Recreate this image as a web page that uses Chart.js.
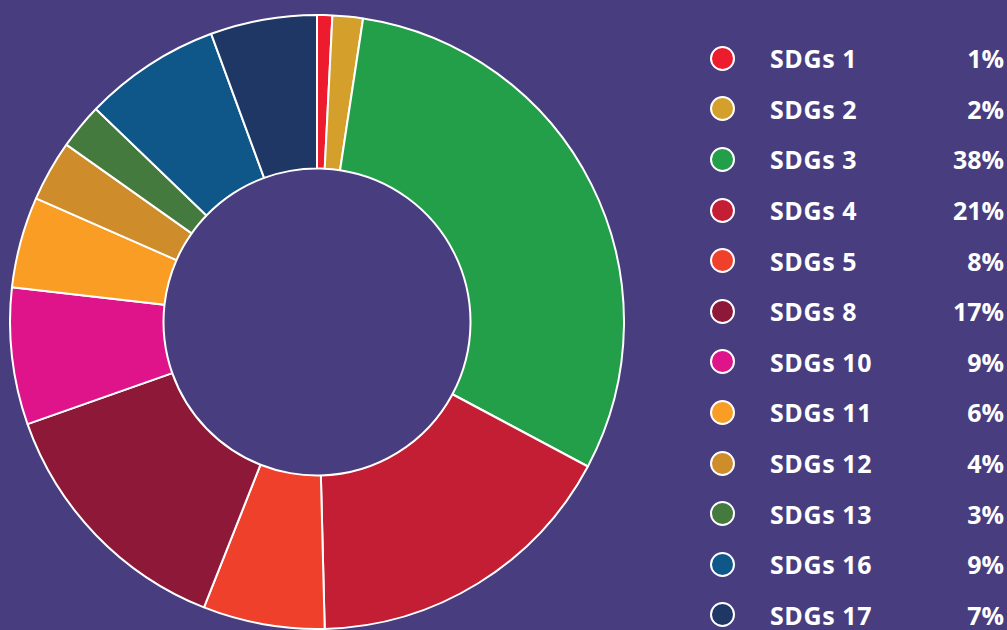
<!DOCTYPE html>
<html>
<head>
    <title>SDGs</title>
    <script src="https://cdn.jsdelivr.net/npm/chart.js"></script>
    <style>
        html, body { margin: 0; padding: 0; }
        body { width: 1007px; height: 630px; background: #483d7f; overflow: hidden; position: relative; font-family: 'Open Sans', Lato, sans-serif; }
        #wrap { position: absolute; left: 9px; top: 14px; width: 616px; height: 616px; }
        #legend { position: absolute; left: 709px; top: 33px; width: 295px; margin: 0; padding: 0; list-style: none; }
        #legend li { height: 50.6px; display: flex; align-items: center; color: #fff; font-weight: 700; font-size: 25px; letter-spacing: 0.6px; }
        #legend .dot { width: 21px; height: 21px; border-radius: 50%; border: 2px solid #fff; margin-right: 35px; margin-left: 1px; }
        #legend .name { flex: 1; }
        #legend .pct { text-align: right; letter-spacing: 0; }
    </style>
</head>
<body>
    <div id="wrap"><canvas id="chart"></canvas></div>
    <ul id="legend"></ul>
    <script>
        const labels = ['SDGs 1', 'SDGs 2', 'SDGs 3', 'SDGs 4', 'SDGs 5', 'SDGs 8', 'SDGs 10', 'SDGs 11', 'SDGs 12', 'SDGs 13', 'SDGs 16', 'SDGs 17'];
        const values = [1, 2, 38, 21, 8, 17, 9, 6, 4, 3, 9, 7];
        const colors = ['#ec1c2e', '#d4a02b', '#239e49', '#c41e34', '#ef402b', '#8d1838', '#e0148a', '#f99d25', '#cf8c2a', '#457a3f', '#0f5689', '#1e3765'];

        // legend built from the same arrays
        const legend = document.getElementById('legend');
        labels.forEach((label, i) => {
            const li = document.createElement('li');
            li.innerHTML = '<span class="dot" style="background:' + colors[i] + '"></span>' +
                '<span class="name">' + label + '</span><span class="pct">' + values[i] + '%</span>';
            legend.appendChild(li);
        });

        new Chart(document.getElementById('chart'), {
            type: 'doughnut',
            data: {
                labels: labels,
                datasets: [{
                    data: values,
                    backgroundColor: colors,
                    borderColor: '#ffffff',
                    borderWidth: 2,
                    hoverOffset: 0
                }]
            },
            options: {
                responsive: true,
                maintainAspectRatio: false,
                animation: false,
                cutout: '50%',
                plugins: {
                    legend: { display: false },
                    tooltip: { enabled: false }
                }
            }
        });
    </script>
</body>
</html>
